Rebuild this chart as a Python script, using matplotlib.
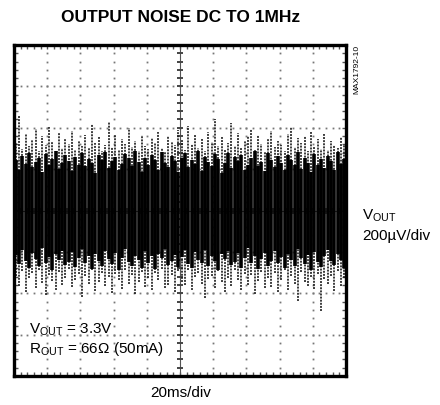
import numpy as np
import matplotlib
matplotlib.use("Agg")
import matplotlib.pyplot as plt

plt.rcParams["font.family"] = ["Liberation Sans", "DejaVu Sans"]

# scope settings (divisions)
N_XDIV = 10
N_YDIV = 8

# noise trace, read column by column from the screen (units: divisions from centre)
core_hi = [1.22, 0.98, 1.31, 1.12, 1.40, 1.05, 1.18, 1.27, 0.92, 1.36,
           1.09, 1.24, 1.44, 1.01, 1.15, 1.33, 1.20, 0.95, 1.29, 1.11,
           1.38, 1.07, 1.25, 1.16, 0.90, 1.34, 1.21, 1.42, 1.03, 1.19,
           1.30, 0.97, 1.13, 1.37, 1.26, 1.08, 1.45, 1.17, 0.94, 1.28,
           1.10, 1.35, 1.23, 0.99, 1.41, 1.14, 1.06, 1.32, 1.19, 0.93,
           1.27, 1.39, 1.04, 1.21, 1.12, 1.43, 0.96, 1.30, 1.18, 1.08,
           1.36, 1.24, 0.91, 1.15, 1.40, 1.02, 1.29, 1.20, 1.33, 0.97,
           1.11, 1.26, 1.44, 1.07, 1.17, 0.95, 1.38, 1.23, 1.05, 1.31,
           1.14, 0.99, 1.35, 1.22, 1.09, 1.42, 1.01, 1.28, 1.16, 0.94,
           1.37, 1.10, 1.25, 1.03, 1.32, 1.19, 0.98, 1.41, 1.13, 1.24]
core_lo = [-1.08, -1.30, -0.95, -1.21, -1.39, -1.02, -1.17, -1.34, -0.91, -1.26,
           -1.12, -1.43, -1.05, -1.19, -0.97, -1.31, -1.24, -1.00, -1.37, -1.14,
           -0.93, -1.28, -1.10, -1.41, -1.06, -1.22, -1.35, -0.98, -1.18, -1.29,
           -1.03, -1.44, -1.15, -0.94, -1.25, -1.33, -1.09, -1.20, -1.38, -0.99,
           -1.27, -1.11, -1.42, -1.04, -1.16, -0.92, -1.32, -1.23, -1.07, -1.36,
           -1.13, -0.96, -1.29, -1.40, -1.01, -1.19, -1.26, -0.95, -1.34, -1.10,
           -1.21, -1.45, -1.06, -1.17, -0.99, -1.31, -1.24, -1.02, -1.38, -1.14,
           -0.90, -1.28, -1.09, -1.42, -1.18, -1.03, -1.35, -1.22, -0.97, -1.27,
           -1.12, -1.40, -1.05, -1.20, -1.33, -0.94, -1.16, -1.30, -1.08, -1.43,
           -1.01, -1.25, -1.37, -1.11, -0.96, -1.23, -1.32, -1.06, -1.19, -1.39]
peak_hi = [1.62, 2.28, 1.48, 1.85, 1.55, 1.71, 1.96, 1.44, 1.80, 1.58,
           2.02, 1.67, 1.40, 1.88, 1.52, 1.74, 1.60, 1.93, 1.46, 1.69,
           1.57, 1.82, 1.50, 2.08, 1.64, 1.77, 1.43, 1.59, 2.15, 1.53,
           1.86, 1.47, 1.72, 1.61, 1.99, 1.54, 1.68, 1.45, 1.83, 1.56,
           1.49, 1.76, 1.63, 1.90, 1.51, 1.42, 1.81, 1.66, 1.58, 1.95,
           1.70, 1.47, 2.05, 1.60, 1.84, 1.52, 1.73, 1.44, 1.89, 1.65,
           2.22, 1.55, 1.78, 1.48, 1.62, 2.12, 1.57, 1.87, 1.50, 1.68,
           1.79, 1.97, 1.46, 1.83, 1.61, 1.41, 1.74, 1.92, 1.54, 1.67,
           1.59, 1.45, 1.86, 2.01, 1.53, 1.75, 1.64, 1.81, 1.43, 1.90,
           1.56, 1.72, 1.49, 1.84, 1.47, 1.69, 1.58, 1.52, 1.77, 1.60]
peak_lo = [-1.58, -1.82, -1.47, -1.97, -1.64, -1.52, -1.88, -1.43, -1.76, -2.04,
           -1.55, -1.71, -1.92, -1.49, -1.80, -1.62, -1.41, -1.86, -1.67, -1.53,
           -2.09, -1.59, -1.78, -1.45, -1.94, -1.72, -1.50, -1.83, -1.61, -1.99,
           -1.54, -1.68, -1.89, -1.44, -1.77, -1.57, -2.03, -1.73, -1.48, -1.84,
           -1.63, -1.93, -1.51, -1.69, -1.42, -1.87, -1.79, -1.56, -1.98, -1.46,
           -1.74, -1.81, -1.44, -1.91, -1.60, -1.52, -1.78, -2.11, -1.66, -1.58,
           -1.88, -1.47, -1.73, -1.96, -1.62, -1.83, -1.43, -1.68, -1.93, -1.54,
           -1.79, -1.57, -2.02, -1.71, -1.49, -1.87, -1.63, -1.84, -1.51, -1.97,
           -1.67, -1.44, -1.92, -1.58, -1.78, -2.18, -1.48, -1.73, -1.82, -1.61,
           -1.89, -1.53, -2.42, -1.66, -1.77, -1.59, -1.94, -1.47, -1.83, -1.62]

fig = plt.figure(figsize=(4.40, 4.06), dpi=100)
ax = fig.add_axes([14 / 440, 1 - 377 / 406, 332 / 440, 331 / 406])
ax.set_xlim(0, N_XDIV)
ax.set_ylim(-N_YDIV / 2, N_YDIV / 2)
ax.set_xticks([])
ax.set_yticks([])
for sp in ax.spines.values():
    sp.set_linewidth(2.4)
    sp.set_color("black")

# graticule: dotted grid lines
gx = np.arange(0, N_XDIV + 0.01, 0.2)
gy = np.arange(-N_YDIV / 2, N_YDIV / 2 + 0.01, 0.2)
for yv in range(-N_YDIV // 2 + 1, N_YDIV // 2):
    if yv == 0:
        continue
    ax.plot(gx, np.full_like(gx, yv), ls="none", marker="s", ms=1.3, color="#777777", mew=0)
for xv in range(1, N_XDIV):
    if xv == N_XDIV // 2:
        continue
    ax.plot(np.full_like(gy, xv), gy, ls="none", marker="s", ms=1.3, color="#777777", mew=0)

# centre cross with tick marks
ax.axhline(0, color="#555555", lw=0.8)
ax.axvline(N_XDIV / 2, color="#555555", lw=0.8)
ax.plot(np.full_like(gy, N_XDIV / 2), gy, ls="none", marker="_", ms=5, mew=1.4, color="#444444")
ax.plot(gx, np.zeros_like(gx), ls="none", marker="|", ms=5, mew=1.2, color="#444444")
# border ticks
ax.plot(gx, np.full_like(gx, N_YDIV / 2 - 0.06), ls="none", marker="|", ms=3, mew=1, color="#555555")
ax.plot(gx, np.full_like(gx, -N_YDIV / 2 + 0.06), ls="none", marker="|", ms=3, mew=1, color="#555555")
ax.plot(np.full_like(gy, 0.06), gy, ls="none", marker="_", ms=3, mew=1, color="#555555")
ax.plot(np.full_like(gy, N_XDIV - 0.06), gy, ls="none", marker="_", ms=3, mew=1, color="#555555")

# noise trace
xs = np.linspace(0.05, N_XDIV - 0.05, len(core_hi))
ax.vlines(xs, peak_lo, peak_hi, colors="#1a1a1a", lw=1.4, linestyles=(0, (1.0, 0.6)), alpha=0.85)
ax.vlines(xs, core_lo, core_hi, colors="black", lw=2.6)

# annotations
ax.text(0.45, -2.95, r"$\mathregular{V_{OUT}}$ = 3.3V", fontsize=11, va="baseline")
ax.text(0.45, -3.42, "$\\mathregular{R_{OUT}}$ = 66\u03a9 (50mA)", fontsize=11, va="baseline")

fig.text(181 / 440, 1 - 18 / 406, "OUTPUT NOISE DC TO 1MHz", ha="center", va="center",
         fontsize=12.5, fontweight="bold")
fig.text(181 / 440, 1 - 393 / 406, "20ms/div", ha="center", va="center", fontsize=11)
fig.text(362 / 440, 1 - 216 / 406, r"$\mathregular{V_{OUT}}$", ha="left", va="center", fontsize=11)
fig.text(362 / 440, 1 - 236 / 406, "200\u00b5V/div", ha="left", va="center", fontsize=11)
fig.text(357 / 440, 1 - 45 / 406, "MAX1792-10", ha="center", va="top", rotation=90, fontsize=6)

fig.savefig("out.png", dpi=100)
